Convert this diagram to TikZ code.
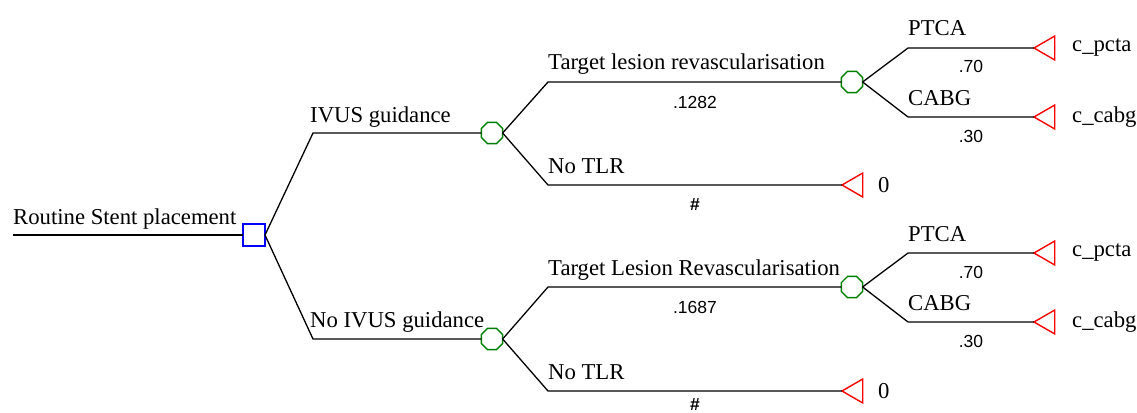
\documentclass[tikz,border=0pt]{standalone}
\usepackage{fontspec}
\setmainfont{Liberation Serif}
\newfontfamily\numfont{Liberation Sans}
\usetikzlibrary{shapes.geometric}
\begin{document}
\begin{tikzpicture}[x=1pt,y=-1pt,
  br/.style={draw=black,line width=1.3pt},
  dec/.style={draw=blue,line width=1.6pt,rectangle,minimum size=22pt,inner sep=0pt,outer sep=0pt},
  chn/.style={draw=green!50!black,line width=1.4pt,regular polygon,regular polygon sides=8,minimum size=23pt,inner sep=0pt,outer sep=0pt},
  trm/.style={draw=red,line width=1.4pt,regular polygon,regular polygon sides=3,shape border rotate=90,minimum size=27.7pt,inner sep=0pt,outer sep=0pt,anchor=west},
  lab/.style={font=\fontsize{22.7}{26}\selectfont,anchor=base west,inner sep=0pt},
  prob/.style={font=\numfont\fontsize{17.5}{20}\selectfont,anchor=base,inner sep=0pt},
  hash/.style={font=\numfont\bfseries\fontsize{17.5}{20}\selectfont,anchor=base,inner sep=0pt},
  pay/.style={font=\fontsize{22.7}{26}\selectfont,anchor=west,inner sep=0pt}]
\useasboundingbox (0,0) rectangle (1137,412);
% root
\node[dec] (d) at (254,235) {};
\coordinate (r0) at (13,235);
\draw[br] (r0) -- (d.west);
\node[lab] (lr) at (13,224) {Routine Stent placement};
% chance nodes
\node[chn] (c1) at (492,133) {};
\node[chn] (c2) at (492,339) {};
\node[chn] (c3) at (852,82) {};
\node[chn] (c4) at (852,287) {};
% terminals
\node[trm] (t1) at (842,185) {};
\node[trm] (t2) at (842,391) {};
\node[trm] (t3) at (1034,48) {};
\node[trm] (t4) at (1034,117) {};
\node[trm] (t5) at (1034,253) {};
\node[trm] (t6) at (1034,322) {};
% corners
\coordinate (k1) at (313,133);
\coordinate (k2) at (313,339);
\coordinate (k3) at (548,82);
\coordinate (k4) at (548,185);
\coordinate (k5) at (908,48);
\coordinate (k6) at (908,117);
\coordinate (k7) at (548,287);
\coordinate (k8) at (548,391);
\coordinate (k9) at (908,253);
\coordinate (k10) at (908,322);
% branches
\draw[br] (d.east) -- (k1) -- (c1.west);
\draw[br] (d.east) -- (k2) -- (c2.west);
\draw[br] (c1.east) -- (k3) -- (c3.west);
\draw[br] (c1.east) -- (k4) -- (t1.west);
\draw[br] (c3.east) -- (k5) -- (t3.west);
\draw[br] (c3.east) -- (k6) -- (t4.west);
\draw[br] (c2.east) -- (k7) -- (c4.west);
\draw[br] (c2.east) -- (k8) -- (t2.west);
\draw[br] (c4.east) -- (k9) -- (t5.west);
\draw[br] (c4.east) -- (k10) -- (t6.west);
% labels
\node[lab] (l1) at (310,122) {IVUS guidance};
\node[lab] (l2) at (310,327) {No IVUS guidance};
\node[lab] (l3) at (548,70) {Target lesion revascularisation};
\node[lab] (l4) at (548,173) {No TLR};
\node[lab] (l5) at (908,36) {PTCA};
\node[lab] (l6) at (908,105) {CABG};
\node[lab] (l7) at (548,275) {Target Lesion Revascularisation};
\node[lab] (l8) at (548,379) {No TLR};
\node[lab] (l9) at (908,241) {PTCA};
\node[lab] (l10) at (908,310) {CABG};
% probabilities
\node[prob] (p1) at (695,108) {.1282};
\node[hash] (p2) at (695,210) {\#};
\node[prob] (p3) at (971,73) {.70};
\node[prob] (p4) at (971,142) {.30};
\node[prob] (p5) at (695,313) {.1687};
\node[hash] (p6) at (695,410) {\#};
\node[prob] (p7) at (971,278) {.70};
\node[prob] (p8) at (971,347) {.30};
% payoffs
\node[pay] (v1) at (878,185) {0};
\node[pay] (v2) at (878,391) {0};
\node[pay] (v3) at (1072,48) {c\_pcta};
\node[pay] (v4) at (1072,117) {c\_cabg};
\node[pay] (v5) at (1072,253) {c\_pcta};
\node[pay] (v6) at (1072,322) {c\_cabg};
\end{tikzpicture}
\end{document}
